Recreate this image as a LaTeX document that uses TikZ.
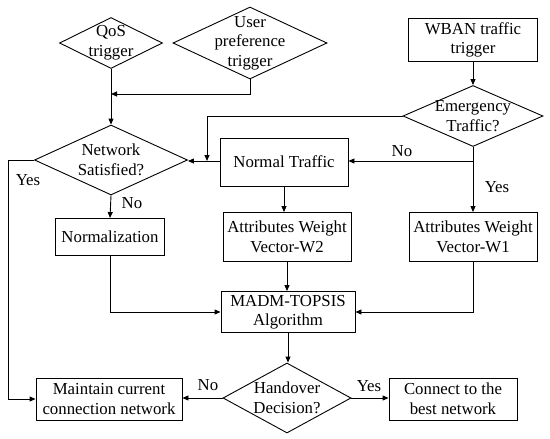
\documentclass[tikz,border=0pt]{standalone}
\usepackage{fontspec}
\setmainfont{Liberation Serif}
\usetikzlibrary{shapes.geometric,arrows.meta}
\begin{document}
\begin{tikzpicture}[x=1pt,y=-1pt,
  every node/.style={font=\fontsize{16.8}{19.5}\selectfont},
  box/.style={draw, line width=0.9pt, inner sep=0pt, align=center},
  dia/.style={draw, diamond, line width=0.9pt, inner sep=0pt},
  lab/.style={align=center, inner sep=0pt},
  arr/.style={line width=0.9pt, -{Triangle[length=6pt,width=5pt]}},
  ln/.style={line width=0.9pt}
]
\useasboundingbox (0,0) rectangle (550,439);

% diamonds
\node[dia, minimum width=103pt, minimum height=51pt, label={[lab]center:QoS\\trigger}] (qos) at (111,43) {};
\node[dia, minimum width=154pt, minimum height=72pt, label={[lab]center:User\\preference\\trigger}] (up) at (250,43) {};
\node[dia, minimum width=140pt, minimum height=61pt, label={[lab]center:Emergency\\Traffic?}] (em) at (473,116) {};
\node[dia, minimum width=153pt, minimum height=70pt, label={[lab]center:Network\\Satisfied?}] (ns) at (111,160) {};
\node[dia, minimum width=128pt, minimum height=70pt, label={[lab]center:Handover\\Decision?}] (hd) at (287,398) {};

% boxes
\node[box, minimum width=129pt, minimum height=43pt] (wban) at (473,40) {WBAN traffic\\trigger};
\node[box, minimum width=128pt, minimum height=48pt] (nt) at (284,162) {Normal Traffic};
\node[box, minimum width=109pt, minimum height=37pt] (norm) at (110,237) {Normalization};
\node[box, minimum width=128pt, minimum height=49pt] (w2) at (287,237) {Attributes Weight\\Vector-W2};
\node[box, minimum width=128pt, minimum height=49pt] (w1) at (473,237) {Attributes Weight\\Vector-W1};
\node[box, minimum width=134pt, minimum height=41pt] (madm) at (288,312) {MADM-TOPSIS\\Algorithm};
\node[box, minimum width=146pt, minimum height=42pt] (maint) at (109,399) {Maintain current\\connection network};
\node[box, minimum width=128pt, minimum height=42pt] (best) at (453,399) {Connect to the\\best network};

% junction coordinates
\coordinate (j1) at (111,94);
\coordinate (j2) at (207,161);
\coordinate (j3) at (473,161);
\coordinate (j4) at (8,160);

% connectors
\draw[arr] (qos.south) -- (ns.north);
\draw[arr] (up.south) |- (j1);
\draw[arr] (nt.west |- j2) -- (ns.east |- j2);
\draw[arr] (em.west) -| (j2);
\draw[arr] (wban.south) -- (em.north);
\draw[arr] (em.south) -- (w1.north);
\draw[arr] (j3) -- (nt.east |- j3);
\draw[arr] (ns.south) -- (norm.north);
\draw[arr] (nt.south) -- (nt.south |- w2.north);
\draw[arr] (norm.south) |- (madm.west);
\draw[arr] (w1.south) |- (madm.east);
\draw[arr] (w2.south) -- (w2.south |- madm.north);
\draw[arr] (madm.south) -- (madm.south |- hd.north);
\draw[arr] (hd.west) -- (maint.east |- hd.west);
\draw[arr] (hd.east) -- (best.west |- hd.east);
\draw[arr] (ns.west) -- (j4) |- (maint.west);

% labels
\node (l1) at (132,203) {No};
\node (l2) at (28,180) {Yes};
\node (l3) at (402,151) {No};
\node (l4) at (497,187) {Yes};
\node (l5) at (208,385) {No};
\node (l6) at (369,386) {Yes};
\end{tikzpicture}
\end{document}
